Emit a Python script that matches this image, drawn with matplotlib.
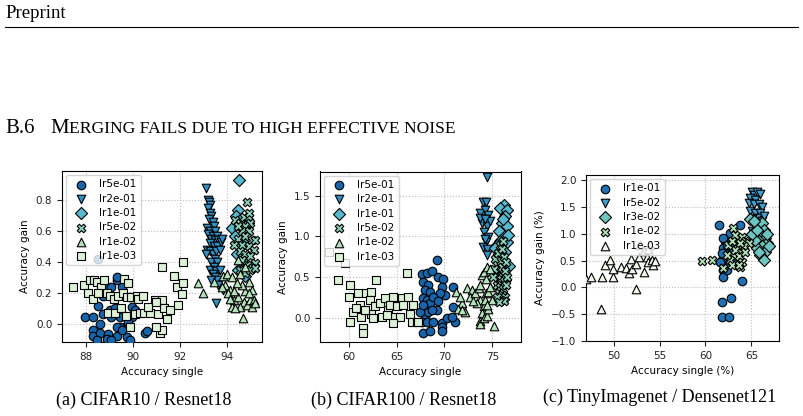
import matplotlib
matplotlib.use("Agg")
import matplotlib.pyplot as plt

# ---------------- data ----------------
# (a) CIFAR10 / Resnet18
a_labels = ["lr5e-01", "lr2e-01", "lr1e-01", "lr5e-02", "lr1e-02", "lr1e-03"]
a_x = [
    [87.98, 88.33, 88.55, 88.76, 88.9, 89.33, 89.33, 89.54, 89.04, 89.26, 89.47, 89.68,
     88.33, 88.33, 88.62, 88.97, 89.33, 89.47, 89.75, 89.89, 89.96, 90.18, 90.53, 90.6,
     88.9, 88.47, 89.1, 89.96, 90.1, 88.62, 88.76, 89.1, 89.82, 89.33, 89.54, 89.9, 89.1, 88.55],
    [93.1, 93.2, 93.25, 93.3, 93.2, 93.3, 93.35, 93.25, 93.4, 93.15, 93.45, 93.3, 93.5, 93.2,
     93.4, 93.6, 93.35, 93.5, 93.65, 93.3, 93.45, 93.6, 93.75, 93.8, 93.15, 93.3, 93.4, 93.55,
     93.7, 93.5, 93.35, 93.6, 93.45, 93.3, 93.55, 93.4, 93.5, 93.6, 93.35, 93.65, 93.55, 93.85,
     93.7, 93.1],
    [94.53, 94.46, 94.22, 94.4, 94.57, 94.36, 94.55, 94.65, 94.5, 94.72, 94.89, 94.79, 94.45, 94.6],
    [94.86, 94.36, 94.57, 94.72, 94.93, 95.0, 94.79, 94.65, 94.93, 94.5, 94.79, 95.07, 94.65,
     94.93, 95.14, 94.57, 94.79, 95.0, 95.21, 94.65, 94.86, 95.07, 94.57, 94.79, 94.93, 94.5,
     95.21, 94.3, 95.0, 95.21],
    [92.76, 92.99, 93.44, 93.84, 94.0, 94.22, 93.93, 94.15, 93.8, 94.07, 94.29, 94.5, 94.72,
     94.57, 94.86, 95.0, 95.14, 94.79, 95.07, 94.65, 94.93, 94.43, 94.57, 94.79, 94.5, 94.68,
     94.29, 94.93, 94.22, 94.36, 95.07, 95.21, 94.15],
    [87.45, 87.95, 88.2, 88.35, 88.5, 88.65, 88.1, 88.3, 88.55, 88.8, 88.9, 89.05, 89.2, 89.4,
     89.6, 89.75, 89.95, 90.2, 90.25, 89.1, 88.95, 89.25, 89.5, 89.7, 89.9, 90.1, 90.3, 89.65,
     89.8, 90.5, 90.75, 90.95, 91.24, 91.1, 91.35, 91.45, 91.6, 91.74, 91.9, 92.1, 91.95,
     91.24, 92.16, 91.17, 91.24, 91.0, 90.67, 90.46, 91.0, 92.16],
]
a_y = [
    [0.04, 0.045, 0.115, 0.18, 0.24, 0.28, 0.30, 0.24, 0.09, 0.10, 0.045, -0.02,
     -0.04, -0.08, -0.06, -0.07, -0.08, -0.02, -0.085, -0.105, 0.045, 0.07, -0.06, -0.05,
     -0.10, -0.11, -0.11, 0.11, 0.09, 0.0, 0.06, 0.045, 0.01, -0.02, -0.045, 0.17, 0.24, 0.42],
    [0.88, 0.80, 0.79, 0.77, 0.75, 0.72, 0.70, 0.68, 0.66, 0.62, 0.63, 0.60, 0.60, 0.58,
     0.57, 0.57, 0.55, 0.54, 0.54, 0.52, 0.50, 0.50, 0.53, 0.55, 0.48, 0.47, 0.45, 0.47,
     0.48, 0.42, 0.40, 0.40, 0.37, 0.35, 0.34, 0.32, 0.30, 0.28, 0.28, 0.25, 0.13, 0.22,
     0.35, 0.45],
    [0.93, 0.735, 0.62, 0.70, 0.63, 0.57, 0.50, 0.41, 0.35, 0.52, 0.65, 0.31, 0.45, 0.68],
    [0.79, 0.67, 0.65, 0.69, 0.69, 0.65, 0.63, 0.60, 0.60, 0.55, 0.57, 0.54, 0.51,
     0.50, 0.48, 0.47, 0.45, 0.44, 0.39, 0.41, 0.38, 0.36, 0.35, 0.33, 0.72, 0.63,
     0.54, 0.51, 0.35, 0.36],
    [0.26, 0.20, 0.27, 0.31, 0.32, 0.30, 0.25, 0.22, 0.24, 0.20, 0.15, 0.17, 0.14,
     0.11, 0.12, 0.15, 0.15, 0.21, 0.22, 0.25, 0.27, 0.26, 0.32, 0.37, 0.41, 0.035,
     0.21, 0.20, 0.11, 0.10, 0.11, 0.13, 0.16],
    [0.24, 0.25, 0.28, 0.28, 0.27, 0.24, 0.20, 0.16, 0.20, 0.28, 0.20, 0.18, 0.16, 0.18,
     0.20, 0.17, 0.17, 0.18, 0.16, 0.07, 0.07, 0.07, 0.10, 0.05, -0.02, 0.06, 0.07, 0.29,
     0.26, 0.07, 0.07, 0.15, 0.15, 0.06, 0.10, 0.03, 0.09, 0.31, 0.24, 0.19, 0.12,
     0.37, 0.40, -0.06, -0.04, -0.02, 0.11, 0.18, 0.14, 0.26],
]

# (b) CIFAR100 / Resnet18
b_labels = ["lr5e-01", "lr2e-01", "lr1e-01", "lr5e-02", "lr1e-02", "lr1e-03"]
b_x = [
    [67.62, 68.15, 68.67, 69.2, 67.8, 68.3, 67.97, 68.5, 67.73, 68.15, 68.5, 67.8, 67.97,
     68.3, 67.62, 68.15, 68.85, 69.72, 69.72, 70.25, 70.94, 71.1, 70.77, 67.8, 68.5, 69.72,
     69.37, 69.9, 69.72, 70.07, 69.55, 70.87, 68.85, 69.2, 68.67, 69.37, 67.45, 67.8],
    [74.4, 74.0, 74.3, 73.74, 74.27, 74.6, 73.9, 74.4, 74.1, 74.6, 74.3, 74.0, 74.5, 74.4,
     74.2, 73.74, 74.8, 74.27],
    [76.2, 75.85, 76.55, 76.37, 76.0, 76.5, 75.67, 76.3, 75.85, 76.55, 75.5, 76.37, 76.0,
     76.7, 76.2, 75.25, 76.37, 75.85, 76.1, 76.6, 75.7],
    [75.3, 75.6, 75.8, 76.1, 75.5, 75.9, 76.2, 75.4, 75.7, 76.0, 76.3, 75.6, 75.9, 76.2,
     75.5, 75.8, 76.1, 76.4, 75.7, 76.0, 76.3, 75.9, 76.2, 75.2, 76.5, 75.5, 75.7, 76.0,
     76.4, 75.1],
    [71.19, 71.82, 72.17, 72.34, 72.87, 72.7, 73.2, 73.56, 73.74, 73.9, 74.1, 74.4, 74.8,
     73.74, 74.1, 73.9, 73.74, 73.74, 74.1, 74.5, 74.6, 73.4, 73.0, 75.2, 71.6, 71.45,
     71.8, 74.3, 74.6, 74.37, 74.8, 74.2, 75.0, 74.5],
    [57.94, 59.58, 58.88, 60.1, 60.03, 60.45, 60.98, 61.15, 61.33, 61.5, 61.5, 61.85, 62.38,
     62.2, 62.73, 62.38, 62.9, 63.25, 63.78, 63.43, 64.13, 64.65, 64.3, 65.0, 64.83, 65.35,
     64.65, 65.52, 66.05, 66.22, 65.7, 66.75, 66.4, 66.57, 67.1, 67.27, 60.8, 61.67,
     62.55, 63.95, 60.1],
]
b_y = [
    [0.54, 0.55, 0.57, 0.71, 0.44, 0.40, 0.34, 0.32, 0.24, 0.22, 0.18, 0.095, 0.01,
     0.07, -0.05, -0.05, -0.05, -0.07, -0.11, -0.01, 0.135, -0.05, 0.01, -0.19, -0.17, -0.17,
     0.50, 0.48, 0.38, 0.28, 0.30, 0.38, 0.26, 0.095, 0.095, 0.20, 0.07, 0.16],
    [1.73, 1.43, 1.43, 1.29, 1.33, 1.27, 1.17, 1.13, 1.05, 0.99, 0.93, 0.87, 0.85, 0.77,
     0.97, 1.23, 1.19, 1.21],
    [1.39, 1.35, 1.33, 1.25, 1.17, 1.13, 1.07, 1.01, 0.95, 0.93, 0.89, 0.81, 0.72,
     0.64, 0.58, 0.86, 0.46, 0.40, 1.22, 1.02, 0.78],
    [0.72, 0.80, 0.90, 0.95, 0.65, 0.70, 0.75, 0.55, 0.60, 0.62, 0.58, 0.50, 0.48, 0.45,
     0.40, 0.38, 0.35, 0.40, 0.30, 0.28, 0.25, 0.22, 0.20, 0.60, 0.50, 0.25, 0.19, 0.85,
     0.68, 0.50],
    [0.32, 0.18, 0.07, 0.36, 0.34, 0.26, 0.30, 0.36, 0.40, 0.52, 0.56, 0.62, 0.60,
     0.22, 0.14, 0.06, -0.04, -0.08, 0.0, 0.02, 0.11, 0.18, 0.20, -0.10, 0.26, 0.11,
     0.09, 0.30, 0.32, 0.47, 0.38, 0.22, 0.22, 0.16],
    [0.81, 0.67, 0.46, 0.40, 0.25, 0.07, 0.30, 0.16, 0.01, -0.13, -0.185, 0.30, 0.32,
     0.22, 0.14, 0.05, 0.46, 0.18, 0.24, 0.01, 0.095, 0.26, 0.16, 0.14, 0.01, 0.01,
     -0.07, 0.24, 0.55, 0.26, 0.16, 0.16, 0.05, -0.05, -0.05, -0.05, 0.115, 0.095,
     -0.01, 0.03, -0.05],
]

# (c) TinyImagenet / Densenet121
c_labels = ["lr1e-01", "lr5e-02", "lr3e-02", "lr1e-02", "lr1e-03"]
c_x = [
    [61.52, 63.78, 61.78, 61.96, 61.96, 62.33, 61.85, 61.85, 62.6, 62.75, 64.02, 62.69,
     62.14, 61.96, 62.33, 61.78, 62.69, 62.51, 62.14, 61.6, 62.87, 62.51, 63.05, 61.96,
     63.42, 63.24, 62.33],
    [65.05, 65.23, 65.6, 65.96, 64.87, 65.41, 64.69, 65.23, 65.78, 66.14, 64.87, 65.41,
     65.96, 65.6, 66.14, 65.05, 65.23, 65.78, 66.33, 65.05],
    [64.87, 66.14, 66.33, 65.96, 66.5, 65.78, 66.69, 66.14, 65.6, 66.5, 65.96, 66.33,
     65.41, 65.05, 65.6, 66.87, 65.78, 65.23, 66.69],
    [59.6, 60.69, 62.98, 63.78, 63.78, 63.05, 63.53, 63.96, 64.33, 64.69, 64.15, 63.42,
     63.78, 63.24, 63.6, 62.7, 62.87, 62.33, 62.5, 63.24, 62.87, 63.96, 63.6, 64.33, 61.95],
    [47.0, 47.54, 48.71, 49.08, 49.62, 49.99, 49.99, 50.79, 51.37, 51.73, 51.87, 52.0,
     52.45, 52.8, 52.9, 53.3, 53.6, 53.8, 54.2, 54.3, 54.46, 53.3, 52.45, 48.67, 54.0, 53.8],
]
c_y = [
    [1.17, 1.16, 0.51, 0.33, 0.19, 0.33, -0.28, -0.56, -0.56, -0.19, 0.12, 1.02,
     0.86, 0.74, 0.67, 0.64, 0.76, 0.58, 0.42, 0.48, 0.64, 0.45, 0.83, 0.92,
     0.42, 0.51, 0.80],
    [1.78, 1.73, 1.78, 1.75, 1.67, 1.64, 1.58, 1.55, 1.55, 1.51, 1.43, 1.39,
     1.39, 1.30, 1.24, 1.27, 1.17, 1.14, 1.33, 1.05],
    [1.27, 1.21, 1.08, 0.99, 0.92, 0.86, 0.83, 0.77, 0.74, 0.67, 0.61, 0.51,
     0.89, 0.99, 1.08, 0.77, 0.67, 1.24, 0.99],
    [0.50, 0.51, 1.11, 0.67, 0.38, 0.59, 0.92, 0.95, 0.86, 0.83, 0.77, 0.80,
     0.83, 0.70, 0.58, 0.51, 0.42, 0.61, 0.80, 0.98, 0.86, 0.48, 0.42, 0.67, 0.36],
    [0.15, 0.19, 0.19, 0.41, 0.52, 0.19, 0.35, 0.38, 0.37, 0.27, 0.53, 0.35,
     0.44, 0.57, 0.80, 0.68, 0.57, 0.47, 0.52, 0.41, 0.50, 0.29, -0.02, -0.41, 0.80, 0.71],
]

# ---------------- styling ----------------
markers6 = ["o", "v", "D", "X", "^", "s"]
colors6 = ["#1764ab", "#2f8fc3", "#56b9d0", "#8ccfb9", "#b4e2bb", "#dcf1d5"]
markers5 = ["o", "v", "D", "X", "^"]
colors5 = ["#1f6fb2", "#3f9fcf", "#6cc5c0", "#b1dfb5", "#eef8ea"]

plt.rcParams["font.family"] = "DejaVu Sans"
plt.rcParams["font.size"] = 7.5

fig = plt.figure(figsize=(8.04, 4.16), dpi=100)


def px_rect(left, top, right, bottom):
    return [left / 804, 1 - bottom / 416, (right - left) / 804, (bottom - top) / 416]


def scatter_panel(ax, xs, ys, labels, markers, colors):
    for x, y, lab, m, c in zip(xs, ys, labels, markers, colors):
        ax.scatter(x, y, s=38, marker=m, c=c, edgecolors="black",
                   linewidths=0.8, label=lab, zorder=3)
    ax.grid(True, linestyle=":", color="#bbbbbb", linewidth=0.8, zorder=0)
    ax.set_axisbelow(True)
    ax.tick_params(labelsize=7.5, length=3.5, width=0.8, colors="#222222")
    ax.legend(loc="upper left", fontsize=7.5, scatterpoints=1,
              labelspacing=0.42, borderaxespad=0.4)


ax1 = fig.add_axes(px_rect(62, 171, 262, 342))
scatter_panel(ax1, a_x, a_y, a_labels, markers6, colors6)
ax1.set_xlim(87, 95.5)
ax1.set_ylim(-0.12, 0.99)
ax1.set_xticks([88, 90, 92, 94])
ax1.set_yticks([0.0, 0.2, 0.4, 0.6, 0.8])
ax1.set_xlabel("Accuracy single", fontsize=7.5)
ax1.set_ylabel("Accuracy gain", fontsize=7.5)

ax2 = fig.add_axes(px_rect(320, 171.5, 521, 342))
scatter_panel(ax2, b_x, b_y, b_labels, markers6, colors6)
ax2.set_xlim(57, 78)
ax2.set_ylim(-0.3, 1.8)
ax2.set_xticks([60, 65, 70, 75])
ax2.set_yticks([0.0, 0.5, 1.0, 1.5])
ax2.set_xlabel("Accuracy single", fontsize=7.5)
ax2.set_ylabel("Accuracy gain", fontsize=7.5)

ax3 = fig.add_axes(px_rect(586, 175, 779, 341))
scatter_panel(ax3, c_x, c_y, c_labels, markers5, colors5)
ax3.set_xlim(47, 68)
ax3.set_ylim(-1.0, 2.1)
ax3.set_xticks([50, 55, 60, 65])
ax3.set_yticks([-1.0, -0.5, 0.0, 0.5, 1.0, 1.5, 2.0])
ax3.set_xlabel("Accuracy single (%)", fontsize=7.5)
ax3.set_ylabel("Accuracy gain (%)", fontsize=7.5)

# ---------------- page text ----------------
serif = "Liberation Serif"
fig.text(5 / 804, 1 - 14 / 416, "Preprint", family=serif, fontsize=13.5, va="center")
fig.add_artist(plt.Line2D([5 / 804, 798 / 804], [1 - 27 / 416] * 2,
                          color="black", linewidth=0.8))

# section heading in small caps, built piece by piece
renderer = fig.canvas.get_renderer()
heading = [("B.6", 15), ("   ", 15), ("M", 15),
           ("ERGING FAILS DUE TO HIGH EFFECTIVE NOISE", 12.6)]
xpos = 5
for txt, size in heading:
    t = fig.text(xpos / 804, 1 - 133 / 416, txt, family=serif, fontsize=size,
                 va="baseline")
    xpos += t.get_window_extent(renderer).width

fig.text(144 / 804, 1 - 400 / 416, "(a) CIFAR10 / Resnet18", family=serif,
         fontsize=13, ha="center", va="center")
fig.text(404 / 804, 1 - 400 / 416, "(b) CIFAR100 / Resnet18", family=serif,
         fontsize=13, ha="center", va="center")
fig.text(660 / 804, 1 - 397 / 416, "(c) TinyImagenet / Densenet121", family=serif,
         fontsize=13, ha="center", va="center")

fig.savefig("out.png", dpi=100)
